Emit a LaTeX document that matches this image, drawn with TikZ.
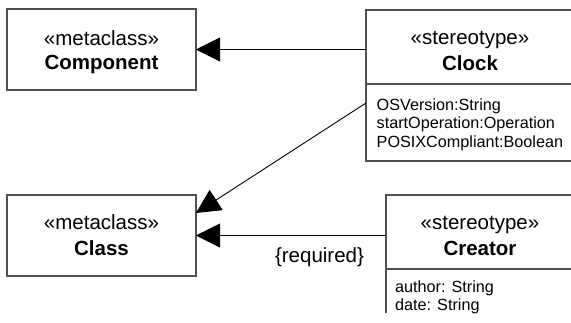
\documentclass[tikz,border=0pt]{standalone}
\usepackage{fontspec}
\setmainfont{Liberation Sans}
\usetikzlibrary{arrows.meta,calc}
\definecolor{boxgray}{HTML}{505050}
\begin{document}
\begin{tikzpicture}[x=1pt,y=-1pt,
  box/.style={draw=boxgray,line width=1.3pt,inner sep=0pt,outer sep=0pt},
  head/.style={font=\fontsize{20.5}{24}\selectfont,anchor=base,inner sep=0pt},
  headb/.style={font=\fontsize{20.5}{24}\selectfont\bfseries,anchor=base,inner sep=0pt},
  attr/.style={font=\fontsize{16.2}{18.5}\selectfont,anchor=base west,inner sep=0pt},
  conn/.style={line width=0.9pt,-{Triangle[length=24pt,width=24pt]}}]
\useasboundingbox (0,0) rectangle (571,322);
\clip (0,0) rectangle (571,322);
\fill[white] (0,0) rectangle (571,322);

% boxes
\node[box,minimum width=189pt,minimum height=81pt] (comp) at (101.5,49.5) {};
\node[box,minimum width=189pt,minimum height=81pt] (cls) at (101.5,235.5) {};
\node[box,minimum width=208pt,minimum height=74pt] (clockhead) at (470,47) {};
\node[box,minimum width=208pt,minimum height=77pt] (clockattr) at (470,122.5) {};
\node[box,minimum width=188pt,minimum height=74pt] (crehead) at (480,232) {};
\coordinate (creend) at (386,313);
\draw[draw=boxgray,line width=1.3pt] (crehead.south west) -- (creend);

% texts
\node[head] (t1) at (101.5,45.5) {«metaclass»};
\node[headb] (t2) at (101.5,69.5) {Component};
\node[head] (t3) at (101.5,229.5) {«metaclass»};
\node[headb] (t4) at (101.5,255.5) {Class};
\node[head] (t5) at (470,44) {«stereotype»};
\node[headb] (t6) at (470,70) {Clock};
\node[head] (t7) at (480,229) {«stereotype»};
\node[headb] (t8) at (480,255) {Creator};
\node[attr] (a1) at (376.5,110) {OSVersion:String};
\node[attr] (a2) at (376.5,128.5) {startOperation:Operation};
\node[attr] (a3) at (376.5,147) {POSIXCompliant:Boolean};
\node[attr] (a4) at (395,292) {author: String};
\node[attr] (a5) at (395,310.5) {date: String};
\node[head] (req) at (319.5,262) {\{required\}};

% connectors
\draw[conn] (clockhead.west |- comp.east) -- (comp.east);
\draw[conn] ($(clockattr.north west)+(0,19)$) -- ($(cls.east)+(0,-22.5)$);
\draw[conn] (crehead.west |- cls.east) -- (cls.east);
\end{tikzpicture}
\end{document}
